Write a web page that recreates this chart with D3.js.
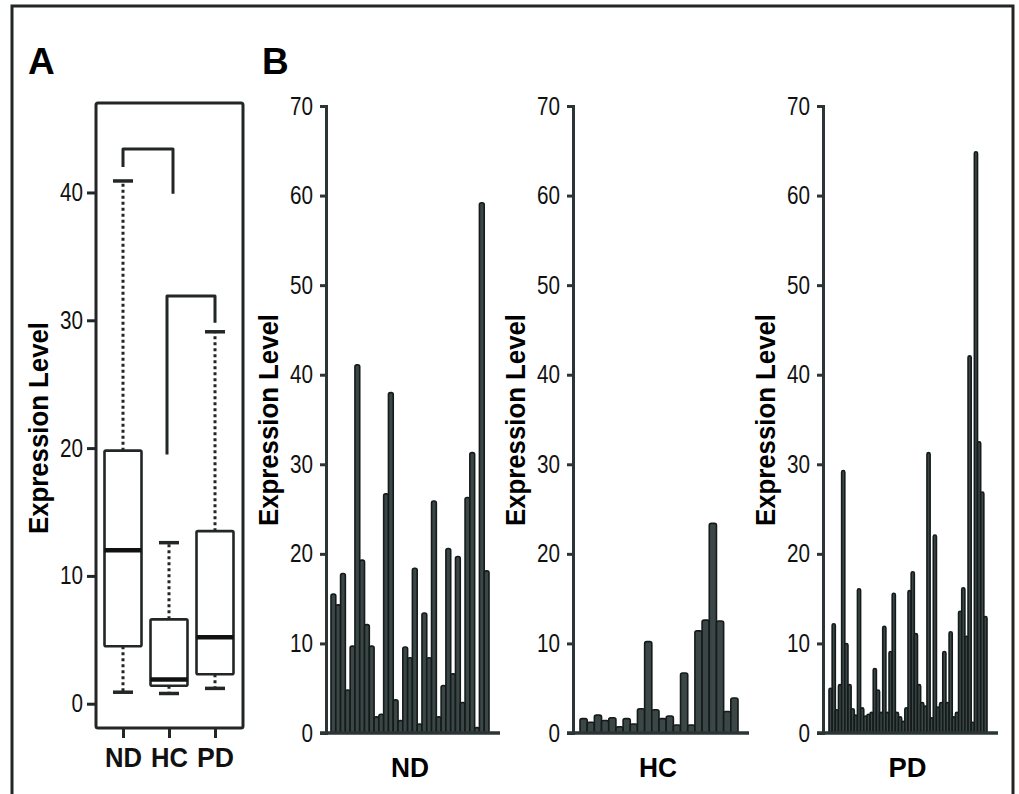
<!DOCTYPE html>
<html>
<head>
<meta charset="utf-8">
<script src="https://cdn.jsdelivr.net/npm/d3@7"></script>
<style>
  body { margin: 0; background: #fff; }
  svg { display: block; }
  .num { font-family: "Liberation Sans Narrow", "Liberation Sans", Arial, sans-serif; }
  .bold { font-family: "Liberation Sans Narrow", "Liberation Sans", Arial, sans-serif; font-weight: bold; }
</style>
</head>
<body>
<div id="fig"></div>
<script>
// ---- data ----
const groups = ["ND", "HC", "PD"];
const whiskerLow = [0.9, 0.8, 1.2];
const q1 = [4.5, 1.4, 2.3];
const median = [12.0, 1.9, 5.2];
const q3 = [19.8, 6.6, 13.5];
const whiskerHigh = [40.9, 12.6, 29.1];

const bracketPairs = [["ND", "HC"], ["HC", "PD"]];
const bracketTop = [43.4, 31.9];
const bracketLeftEnd = [42.0, 19.5];
const bracketRightEnd = [39.9, 29.8];

const ndValues = [15.5, 14.3, 17.8, 4.8, 9.7, 41.1, 19.3, 12.1, 9.7, 1.8, 2.1, 26.7, 38.0, 3.7, 1.4, 9.6, 8.4,
  18.4, 1.0, 13.4, 8.4, 25.9, 1.8, 5.3, 20.6, 6.6, 19.7, 3.4, 26.3, 31.3, 0.6, 59.2, 18.1];
const hcValues = [1.6, 1.2, 2.0, 1.4, 1.7, 0.7, 1.6, 1.0, 2.7, 10.2, 2.6, 1.6, 1.9, 0.9, 6.7, 0.9, 11.4, 12.6,
  23.4, 12.5, 2.4, 3.9];
const pdValues = [5.0, 12.2, 2.6, 5.4, 29.3, 10.0, 5.4, 2.7, 2.0, 16.1, 2.8, 1.9, 2.1, 2.3, 7.2, 4.8, 2.3, 11.9,
  2.3, 9.1, 15.6, 2.3, 1.8, 1.3, 2.8, 15.9, 18.0, 11.1, 5.4, 3.4, 3.0, 31.3, 1.7, 22.1, 2.9, 3.4, 9.1, 3.4, 11.3,
  1.8, 2.3, 13.6, 16.2, 10.8, 42.1, 1.2, 64.9, 32.5, 26.9, 13.0];

const yTicksA = [0, 10, 20, 30, 40];
const yTicksB = [0, 10, 20, 30, 40, 50, 60, 70];
const yTitle = "Expression Level";

const width = 1019, height = 794;
const ink = "#222626";

var svg = d3.select("#fig").append("svg")
  .attr("width", width)
  .attr("height", height);

// outer frame of the figure (bottom edge runs off the page)
svg.append("path")
  .attr("d", `M12,${height + 5} L12,6 L1013,6 L1013,${height + 5}`)
  .attr("fill", "none")
  .attr("stroke", ink)
  .attr("stroke-width", 3);

svg.append("text").attr("x", 28).attr("y", 74)
  .style("font-family", "Liberation Sans, Arial, sans-serif")
  .style("font-weight", "bold").style("font-size", "37px").text("A");
svg.append("text").attr("x", 262).attr("y", 74)
  .style("font-family", "Liberation Sans, Arial, sans-serif")
  .style("font-weight", "bold").style("font-size", "37px").text("B");

// the figure uses a condensed face: squeeze the text to its measured width
function narrow_ticks(sel) {
  sel.selectAll("text")
    .attr("class", "num")
    .style("font-size", "25px")
    .attr("fill", "#111")
    .attr("textLength", d => String(d).length * 11.5)
    .attr("lengthAdjust", "spacingAndGlyphs");
}

function y_title(x, y) {
  svg.append("text")
    .attr("class", "bold")
    .attr("transform", `translate(${x},${y}) rotate(-90)`)
    .attr("text-anchor", "middle")
    .attr("dominant-baseline", "central")
    .style("font-size", "28px")
    .attr("textLength", 212)
    .attr("lengthAdjust", "spacingAndGlyphs")
    .text(yTitle);
}

// ---------- panel A : box plot ----------
function create_box_plot() {
  var yA = d3.scaleLinear().domain([-1.9, 47]).range([728, 103]);
  var xA = d3.scalePoint().domain(groups).range([123, 215]);
  var boxW = 37, capW = 20;
  var g = svg.append("g");

  g.append("rect")
    .attr("x", 96).attr("y", yA(47))
    .attr("width", 243 - 96).attr("height", yA(-1.9) - yA(47))
    .attr("rx", 2)
    .attr("fill", "none").attr("stroke", ink).attr("stroke-width", 3);

  var yAxis = d3.axisLeft(yA).tickValues(yTicksA).tickSize(9).tickPadding(4);
  var ya = g.append("g").attr("transform", "translate(96,0)").call(yAxis);
  ya.select(".domain").remove();
  ya.selectAll("line").attr("stroke", ink).attr("stroke-width", 3);
  narrow_ticks(ya);

  var xAxis = d3.axisBottom(xA).tickSize(10).tickPadding(14);
  var xa = g.append("g").attr("transform", `translate(0,${yA(-1.9)})`).call(xAxis);
  xa.select(".domain").remove();
  xa.selectAll("line").attr("stroke", ink).attr("stroke-width", 3);
  xa.selectAll("text").attr("class", "bold").style("font-size", "28px").attr("fill", "#111")
    .attr("dy", "0.55em")
    .attr("textLength", 37)
    .attr("lengthAdjust", "spacingAndGlyphs");

  var stats = groups.map((k, i) => ({ key: k, lo: whiskerLow[i], q1: q1[i], med: median[i], q3: q3[i], hi: whiskerHigh[i] }));

  // dotted whiskers
  g.selectAll(".wUp").data(stats).join("line")
    .attr("x1", d => xA(d.key)).attr("x2", d => xA(d.key))
    .attr("y1", d => yA(d.q3)).attr("y2", d => yA(d.hi))
    .attr("stroke", ink).attr("stroke-width", 3).attr("stroke-dasharray", "3,3");
  g.selectAll(".wDn").data(stats).join("line")
    .attr("x1", d => xA(d.key)).attr("x2", d => xA(d.key))
    .attr("y1", d => yA(d.q1)).attr("y2", d => yA(d.lo))
    .attr("stroke", ink).attr("stroke-width", 3).attr("stroke-dasharray", "3,3");
  // caps
  ["hi", "lo"].forEach(k => {
    g.selectAll(".cap" + k).data(stats).join("line")
      .attr("x1", d => xA(d.key) - capW / 2).attr("x2", d => xA(d.key) + capW / 2)
      .attr("y1", d => yA(d[k])).attr("y2", d => yA(d[k]))
      .attr("stroke", ink).attr("stroke-width", 3.5);
  });
  // boxes
  g.selectAll(".box").data(stats).join("rect")
    .attr("x", d => xA(d.key) - boxW / 2).attr("width", boxW)
    .attr("y", d => yA(d.q3)).attr("height", d => yA(d.q1) - yA(d.q3))
    .attr("rx", 1.5)
    .attr("fill", "#fff").attr("stroke", ink).attr("stroke-width", 2.6);
  g.selectAll(".med").data(stats).join("line")
    .attr("x1", d => xA(d.key) - boxW / 2).attr("x2", d => xA(d.key) + boxW / 2)
    .attr("y1", d => yA(d.med)).attr("y2", d => yA(d.med))
    .attr("stroke", "#111").attr("stroke-width", 4.5);

  // significance brackets
  g.selectAll(".bracket").data(bracketPairs).join("path")
    .attr("d", (p, i) => {
      var x1 = xA(p[0]), x2 = xA(p[1]) + (i == 0 ? 4 : 0);
      if (i == 1) x1 -= 2;
      return `M${x1},${yA(bracketLeftEnd[i])} L${x1},${yA(bracketTop[i])} L${x2},${yA(bracketTop[i])} L${x2},${yA(bracketRightEnd[i])}`;
    })
    .attr("fill", "none").attr("stroke", ink).attr("stroke-width", 3)
    .attr("stroke-linejoin", "round");

  y_title(38, 428);
}

// ---------- panel B : bar charts ----------
function create_bar_chart(values, label, axisX, barStart, barEnd) {
  var yB = d3.scaleLinear().domain([0, 70]).range([733, 106]);
  var xB = d3.scaleBand().domain(d3.range(values.length)).range([barStart, barEnd]).paddingInner(0);
  var g = svg.append("g");

  g.selectAll(".bar").data(values).join("rect")
    .attr("x", (d, i) => xB(i))
    .attr("width", xB.bandwidth())
    .attr("y", d => yB(d))
    .attr("height", d => yB(0) - yB(d))
    .attr("rx", Math.min(2, xB.bandwidth() / 2))
    .attr("fill", "#3b4747")
    .attr("stroke", "#151a1a")
    .attr("stroke-width", 1.6);

  var yAxis = d3.axisLeft(yB).tickValues(yTicksB).tickSize(6).tickPadding(7);
  var ya = g.append("g").attr("transform", `translate(${axisX},0)`).call(yAxis);
  ya.select(".domain").attr("stroke", "#2c3535").attr("stroke-width", 3);
  ya.selectAll("line").attr("stroke", "#2c3535").attr("stroke-width", 3);
  narrow_ticks(ya);

  g.append("line")
    .attr("x1", axisX - 6).attr("x2", barEnd + 11)
    .attr("y1", yB(0)).attr("y2", yB(0))
    .attr("stroke", "#2c3535").attr("stroke-width", 3.5);

  g.append("text")
    .attr("class", "bold")
    .attr("x", (axisX - 6 + barEnd + 11) / 2)
    .attr("y", 777)
    .attr("text-anchor", "middle")
    .style("font-size", "28px")
    .attr("textLength", 38)
    .attr("lengthAdjust", "spacingAndGlyphs")
    .text(label);

  y_title(axisX - 58, 420);
}

create_box_plot();
create_bar_chart(ndValues, "ND", 326, 331, 489);
create_bar_chart(hcValues, "HC", 573, 580, 738);
create_bar_chart(pdValues, "PD", 823, 829, 987);
</script>
</body>
</html>
